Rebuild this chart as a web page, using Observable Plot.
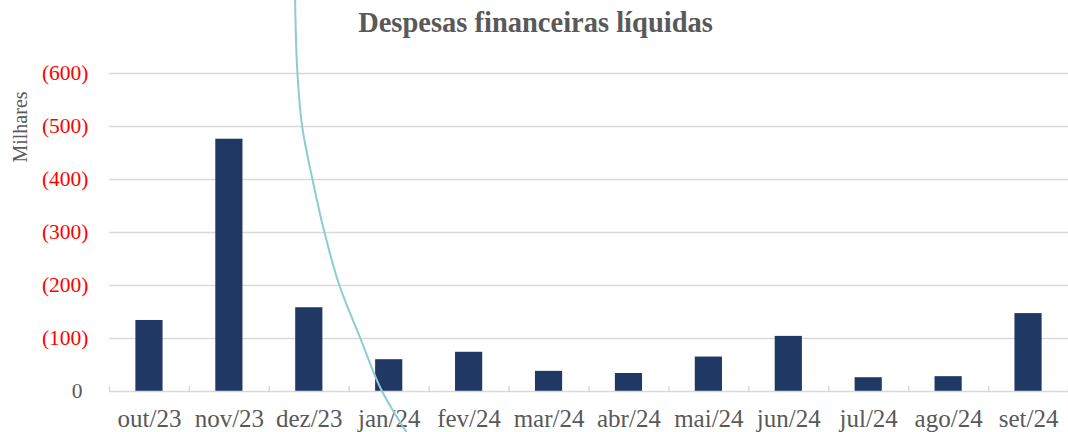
<!DOCTYPE html>
<html>
<head>
<meta charset="utf-8">
<script src="https://cdn.jsdelivr.net/npm/d3@7"></script>
<script src="https://cdn.jsdelivr.net/npm/@observablehq/plot@0.6"></script>
<style>
  html, body { margin: 0; padding: 0; background: #fff; }
  #wrap { position: relative; width: 1068px; height: 432px; overflow: hidden; }
  #title { position: absolute; left: 0; top: 7px; width: 1071px; text-align: center;
           font-family: "Liberation Serif", serif; font-weight: bold; font-size: 28.5px; color: #595959; z-index: 2; }
  #ylab { position: absolute; left: 20px; top: 127px; transform: translate(-50%, -50%) rotate(-90deg);
          font-family: "Liberation Serif", serif; font-size: 20px; color: #595959; white-space: nowrap; }
</style>
</head>
<body>
<div id="wrap">
  <div id="title">Despesas financeiras líquidas</div>
  <div id="ylab">Milhares</div>
  <div id="chart"></div>
</div>
<script>
const months = ["out/23","nov/23","dez/23","jan/24","fev/24","mar/24","abr/24","mai/24","jun/24","jul/24","ago/24","set/24"];
const values = [134, 476, 158, 60, 74, 38, 34, 65, 104, 26, 28, 147];
const yTicks = [0, 100, 200, 300, 400, 500, 600];
// decorative curve crossing the chart (category-index units, value units)
const curveX = [1.822, 1.852, 1.911, 2.04, 2.19, 2.377, 2.64, 2.912, 3.216];
const curveY = [745, 600, 500, 400, 300, 200, 100, 0, -77];

const data = months.map((m, i) => ({month: m, idx: i, value: values[i]}));
const curve = curveX.map((x, i) => ({x, y: curveY[i]}));
const bounds = d3.range(months.length + 1).map(i => i - 0.5);
const half = 0.17;
const serif = "Liberation Serif, serif";

const chart = Plot.plot({
  width: 1068,
  height: 432,
  marginTop: 73,
  marginBottom: 41,
  marginLeft: 109,
  marginRight: 0,
  x: {type: "linear", domain: [-0.5, months.length - 0.5], axis: null},
  y: {domain: [0, 600], axis: null},
  style: {fontFamily: serif, overflow: "visible"},
  marks: [
    Plot.ruleY(yTicks.filter(d => d > 0), {stroke: "#d9d9d9", strokeWidth: 1.5}),
    Plot.rectY(data, {x1: d => d.idx - half, x2: d => d.idx + half, y1: 0, y2: "value", fill: "#203864"}),
    Plot.ruleY([0], {stroke: "#d9d9d9", strokeWidth: 1.5}),
    Plot.ruleX(bounds, {y1: 0, y2: 0, insetTop: -5, stroke: "#d9d9d9", strokeWidth: 1.5}),
    Plot.text(yTicks.filter(d => d > 0), {y: d => d, text: d => `(${d})`, frameAnchor: "left", textAnchor: "end", dx: -21, fill: "#ff0000", fontSize: 21.5}),
    Plot.text([0], {y: d => d, text: d => String(d), frameAnchor: "left", textAnchor: "end", dx: -27, fill: "#595959", fontSize: 21.5}),
    Plot.text(data, {x: "idx", text: "month", frameAnchor: "bottom", lineAnchor: "top", dy: 18, fill: "#595959", fontSize: 25}),
    Plot.line(curve, {x: "x", y: "y", curve: "monotone-y", stroke: "#8ecbd4", strokeWidth: 2})
  ]
});
document.getElementById("chart").appendChild(chart);
</script>
</body>
</html>
